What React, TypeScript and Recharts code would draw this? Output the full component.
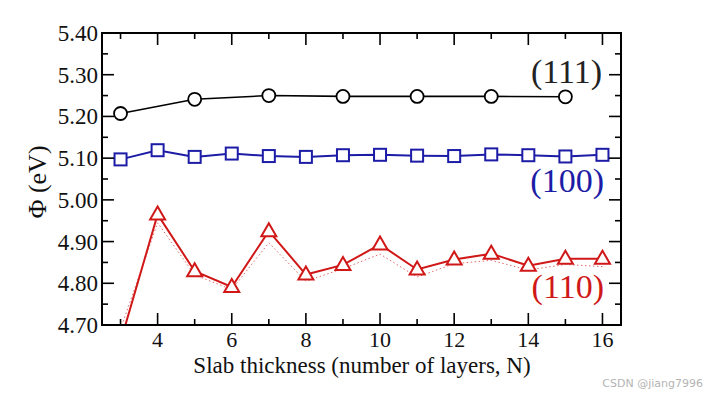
import React from 'react';
import { LineChart, Line, XAxis, YAxis } from 'recharts';

// work function vs slab thickness for three Al surfaces
const layersOdd = [3, 5, 7, 9, 11, 13, 15];
const layersAll = [3, 4, 5, 6, 7, 8, 9, 10, 11, 12, 13, 14, 15, 16];

const phi111 = [5.207, 5.241, 5.25, 5.248, 5.248, 5.248, 5.247];
const phi100 = [5.097, 5.119, 5.103, 5.111, 5.105, 5.103, 5.107, 5.108, 5.106, 5.105, 5.109, 5.107, 5.104, 5.108];
const phi110 = [4.66, 4.965, 4.829, 4.791, 4.925, 4.821, 4.844, 4.893, 4.833, 4.857, 4.871, 4.842, 4.859, 4.859];
const phi110Dotted = [4.69, 4.945, 4.82, 4.785, 4.897, 4.805, 4.835, 4.87, 4.815, 4.847, 4.855, 4.832, 4.845, 4.84];

const yTicks = [4.7, 4.75, 4.8, 4.85, 4.9, 4.95, 5.0, 5.05, 5.1, 5.15, 5.2, 5.25, 5.3, 5.35, 5.4];
const xTicks = [3, 4, 5, 6, 7, 8, 9, 10, 11, 12, 13, 14, 15, 16];

const surfaceLabels = ['(111)', '(100)', '(110)'];
const xTitle = 'Slab thickness (number of layers, N)';
const yTitle = 'Φ (eV)';

const BLACK = '#111';
const BLUE = '#1c1ca6';
const RED = '#d01818';
const SERIF = '"Liberation Serif", "Times New Roman", serif';

const data111 = layersOdd.map((n, i) => ({ n, phi: phi111[i] }));
const data100 = layersAll.map((n, i) => ({ n, phi: phi100[i] }));
const data110 = layersAll.map((n, i) => ({ n, phi: phi110[i] }));
const data110d = layersAll.map((n, i) => ({ n, phi: phi110Dotted[i] }));

const majorY = (v: number) => Math.round(v * 100) % 10 === 0;
const majorX = (v: number) => v % 2 === 0;

const LeftTick = (p: any) => {
  const v = p.payload.value;
  const big = majorY(v);
  const ax = p.x + 4;
  return (
    <g>
      <line x1={ax} x2={ax + (big ? 12 : 6)} y1={p.y} y2={p.y} stroke="#000" strokeWidth={1.6} />
      {big && (
        <text x={p.x} y={p.y + 8} textAnchor="end" fontFamily={SERIF} fontSize={23} fill={BLACK}>
          {v.toFixed(2)}
        </text>
      )}
    </g>
  );
};

const RightTick = (p: any) => {
  const big = majorY(p.payload.value);
  return <line x1={p.x} x2={p.x - (big ? 12 : 6)} y1={p.y} y2={p.y} stroke="#000" strokeWidth={1.6} />;
};

const BottomTick = (p: any) => {
  const v = p.payload.value;
  const big = majorX(v);
  return (
    <g>
      <line x1={p.x} x2={p.x} y1={p.y} y2={p.y - (big ? 12 : 6)} stroke="#000" strokeWidth={1.6} />
      {big && (
        <text x={p.x} y={p.y + 22} textAnchor="middle" fontFamily={SERIF} fontSize={22} fill={BLACK}>
          {v}
        </text>
      )}
    </g>
  );
};

const TopTick = (p: any) => {
  const big = majorX(p.payload.value);
  return <line x1={p.x} x2={p.x} y1={p.y} y2={p.y + (big ? 12 : 6)} stroke="#000" strokeWidth={1.6} />;
};

const CircleDot = (p: any) => {
  if (p.cx == null || p.cy == null) return <g key={p.index} />;
  return <circle key={p.index} cx={p.cx} cy={p.cy} r={6.5} fill="#fff" stroke="#000" strokeWidth={1.8} />;
};

const SquareDot = (p: any) => {
  if (p.cx == null || p.cy == null) return <g key={p.index} />;
  return <rect key={p.index} x={p.cx - 6} y={p.cy - 6} width={12} height={12} fill="#fff" stroke={BLUE} strokeWidth={2} />;
};

const TriangleDot = (p: any) => {
  if (p.cx == null || p.cy == null) return <g key={p.index} />;
  const pts = `${p.cx},${p.cy - 8} ${p.cx - 7.5},${p.cy + 5} ${p.cx + 7.5},${p.cy + 5}`;
  return <polygon key={p.index} points={pts} fill="#fff" stroke={RED} strokeWidth={2} strokeLinejoin="miter" />;
};

const axisLine = { stroke: '#000', strokeWidth: 2, strokeLinecap: 'square' as const };

export default function App() {
  return (
    <div style={{ position: 'fixed', left: 0, top: 0, width: 722, height: 396, background: '#fff' }}>
      <LineChart width={722} height={396} margin={{ top: 23, right: 91, bottom: 41, left: 42 }}>
        <XAxis
          xAxisId={0}
          dataKey="n"
          type="number"
          domain={[2.5, 16.5]}
          allowDataOverflow
          ticks={xTicks}
          interval={0}
          height={30}
          tickSize={0}
          tickMargin={0}
          tickLine={false}
          axisLine={axisLine}
          tick={<BottomTick />}
        />
        <XAxis
          xAxisId="top"
          orientation="top"
          dataKey="n"
          type="number"
          domain={[2.5, 16.5]}
          allowDataOverflow
          ticks={xTicks}
          interval={0}
          height={10}
          tickSize={0}
          tickMargin={0}
          tickLine={false}
          axisLine={axisLine}
          tick={<TopTick />}
        />
        <YAxis
          yAxisId={0}
          type="number"
          domain={[4.7, 5.4]}
          allowDataOverflow
          ticks={yTicks}
          interval={0}
          width={60}
          tickSize={0}
          tickMargin={4}
          tickLine={false}
          axisLine={axisLine}
          tick={<LeftTick />}
        />
        <YAxis
          yAxisId="right"
          orientation="right"
          type="number"
          domain={[4.7, 5.4]}
          allowDataOverflow
          ticks={yTicks}
          interval={0}
          width={10}
          tickSize={0}
          tickMargin={0}
          tickLine={false}
          axisLine={axisLine}
          tick={<RightTick />}
        />
        <Line
          data={data110d}
          dataKey="phi"
          type="linear"
          stroke="#e06a6a"
          strokeWidth={1}
          strokeDasharray="1.5 2.5"
          dot={false}
          activeDot={false}
          isAnimationActive={false}
        />
        <Line
          data={data111}
          dataKey="phi"
          type="linear"
          stroke="#000"
          strokeWidth={1.6}
          dot={CircleDot}
          activeDot={false}
          isAnimationActive={false}
        />
        <Line
          data={data100}
          dataKey="phi"
          type="linear"
          stroke={BLUE}
          strokeWidth={2}
          dot={SquareDot}
          activeDot={false}
          isAnimationActive={false}
        />
        <Line
          data={data110}
          dataKey="phi"
          type="linear"
          stroke={RED}
          strokeWidth={2}
          dot={TriangleDot}
          activeDot={false}
          isAnimationActive={false}
        />
      </LineChart>
      <svg
        width={722}
        height={396}
        style={{ position: 'absolute', left: 0, top: 0, pointerEvents: 'none' }}
      >
        <text x={602} y={83} textAnchor="end" fontFamily={SERIF} fontSize={34} fill="#222">
          {surfaceLabels[0]}
        </text>
        <text x={604} y={192} textAnchor="end" fontFamily={SERIF} fontSize={34} fill={BLUE}>
          {surfaceLabels[1]}
        </text>
        <text x={604} y={298} textAnchor="end" fontFamily={SERIF} fontSize={34} fill={RED}>
          {surfaceLabels[2]}
        </text>
        <text x={362} y={373} textAnchor="middle" fontFamily={SERIF} fontSize={23} fill={BLACK}>
          {xTitle}
        </text>
        <text
          x={46}
          y={182}
          textAnchor="middle"
          transform="rotate(-90 46 182)"
          fontFamily={SERIF}
          fontSize={26}
          fill={BLACK}
        >
          {yTitle}
        </text>
        <text x={703} y={387} textAnchor="end" fontFamily="'DejaVu Sans', sans-serif" fontSize={11} fill="#b4b4b4">
          CSDN @jiang7996
        </text>
      </svg>
    </div>
  );
}
